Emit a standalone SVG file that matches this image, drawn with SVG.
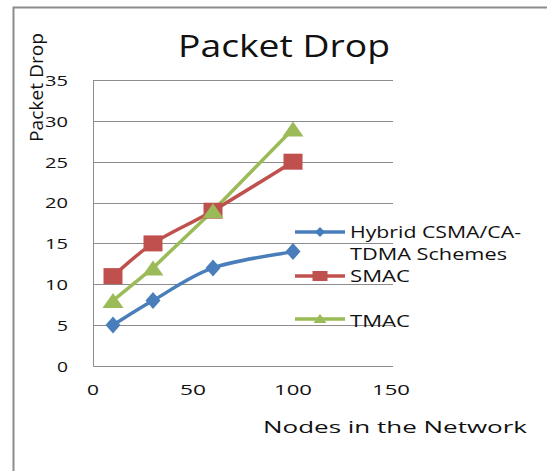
<svg xmlns="http://www.w3.org/2000/svg" xmlns:xlink="http://www.w3.org/1999/xlink" width="547" height="471" viewBox="0 0 547 471">
<style>
.t{font-family:"Open Sans","Liberation Sans",sans-serif;fill:#111}
.tick{font-size:15px}
.grid{stroke:#8c8c8c;stroke-width:1;fill:none}
.blue{stroke:#4a7ebb;fill:none;stroke-width:3.5;stroke-linejoin:round}
.red{stroke:#c0504d;fill:none;stroke-width:3.5;stroke-linejoin:round}
.green{stroke:#9bbb59;fill:none;stroke-width:3.5;stroke-linejoin:round}
</style>
<defs>
<polygon id="dia" points="0,-8.5 7.5,0 0,8.5 -7.5,0" fill="#4a7ebb"/>
<rect id="sq" x="-9.5" y="-8" width="19" height="16" fill="#c0504d"/>
<polygon id="tri" points="0,-7.5 10.5,7.5 -10.5,7.5" fill="#9bbb59"/>
<polygon id="diaS" points="0,-5 5,0 0,5 -5,0" fill="#4a7ebb"/>
<rect id="sqS" x="-7.5" y="-5" width="15" height="10" fill="#c0504d"/>
<polygon id="triS" points="0,-5 6.5,4 -6.5,4" fill="#9bbb59"/>
</defs>
<rect width="547" height="471" fill="#fff"/>
<rect x="13.5" y="7.5" width="600" height="600" fill="none" stroke="#8c8c8c" stroke-width="2"/>
<g id="grid">
<path class="grid" d="M93,80.5H393M93,121.5H393M93,162.5H393M93,203.5H393M93,243.5H393M93,284.5H393M93,325.5H393M93.5,80V366.5H393"/>
</g>
<g id="title"><text class="t" x="178" y="56.5" font-size="31" textLength="212" lengthAdjust="spacingAndGlyphs">Packet Drop</text></g>
<g id="ylabels" class="t tick">
<text x="45" y="86" textLength="23" lengthAdjust="spacingAndGlyphs">35</text>
<text x="45" y="127" textLength="23" lengthAdjust="spacingAndGlyphs">30</text>
<text x="45" y="168" textLength="23" lengthAdjust="spacingAndGlyphs">25</text>
<text x="45" y="208" textLength="23" lengthAdjust="spacingAndGlyphs">20</text>
<text x="45" y="249" textLength="23" lengthAdjust="spacingAndGlyphs">15</text>
<text x="45" y="290" textLength="23" lengthAdjust="spacingAndGlyphs">10</text>
<text x="57" y="331" textLength="11" lengthAdjust="spacingAndGlyphs">5</text>
<text x="57" y="372" textLength="11" lengthAdjust="spacingAndGlyphs">0</text>
</g>
<g id="xlabels" class="t tick">
<text x="87" y="395" textLength="12" lengthAdjust="spacingAndGlyphs">0</text>
<text x="180" y="395" textLength="26" lengthAdjust="spacingAndGlyphs">50</text>
<text x="274" y="395" textLength="38" lengthAdjust="spacingAndGlyphs">100</text>
<text x="372" y="395" textLength="38" lengthAdjust="spacingAndGlyphs">150</text>
</g>
<g id="ytitle"><text class="t" transform="translate(43,142) rotate(-90)" x="0" y="0" font-size="18.5" textLength="109" lengthAdjust="spacingAndGlyphs">Packet Drop</text></g>
<g id="xtitle"><text class="t" x="263" y="433" font-size="17" textLength="264" lengthAdjust="spacingAndGlyphs">Nodes in the Network</text></g>
<g id="connectors">
<path id="line-hybrid" class="blue" d="M113,325.1C119.7,321 136.3,310.1 153,300.6C169.7,291.1 189.7,276.1 213,267.9C236.3,259.7 279.7,254.3 293,251.6"/>
<path id="line-smac" class="red" d="M113,276.1C119.7,270.6 136.3,254.3 153,243.4C169.7,232.5 189.7,224.3 213,210.7C236.3,197.1 279.7,169.9 293,161.7"/>
<polyline id="line-tmac" class="green" points="113,300.6 153,267.9 213,210.7 293,129"/>
</g>
<g id="series-hybrid">
<use xlink:href="#dia" x="113" y="325.1"/><use xlink:href="#dia" x="153" y="300.6"/><use xlink:href="#dia" x="213" y="267.9"/><use xlink:href="#dia" x="293" y="251.6"/>
</g>
<g id="series-smac">
<use xlink:href="#sq" x="113" y="276.1"/><use xlink:href="#sq" x="153" y="243.4"/><use xlink:href="#sq" x="213" y="210.7"/><use xlink:href="#sq" x="293" y="161.7"/>
</g>
<g id="series-tmac">
<use xlink:href="#tri" x="113" y="300.6"/><use xlink:href="#tri" x="153" y="267.9"/><use xlink:href="#tri" x="213" y="210.7"/><use xlink:href="#tri" x="293" y="129"/>
</g>
<g id="legend">
<line class="blue" x1="295" y1="232" x2="345" y2="232"/><use xlink:href="#diaS" x="320" y="232"/>
<text class="t" x="350" y="237.5" font-size="17" textLength="171" lengthAdjust="spacingAndGlyphs">Hybrid CSMA/CA-</text>
<text class="t" x="350" y="260" font-size="17" textLength="157" lengthAdjust="spacingAndGlyphs">TDMA Schemes</text>
<line class="red" x1="295" y1="276" x2="345" y2="276"/><use xlink:href="#sqS" x="320" y="276"/>
<text class="t" x="350" y="282" font-size="17" textLength="60" lengthAdjust="spacingAndGlyphs">SMAC</text>
<line class="green" x1="295" y1="319" x2="345" y2="319"/><use xlink:href="#triS" x="320" y="319"/>
<text class="t" x="350" y="327" font-size="17" textLength="60" lengthAdjust="spacingAndGlyphs">TMAC</text>
</g>
</svg>
